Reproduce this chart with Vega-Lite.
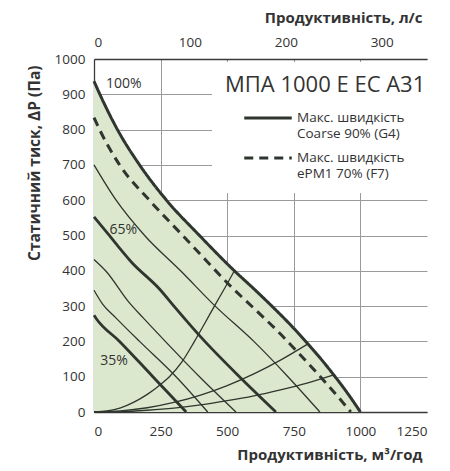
{
  "$schema": "https://vega.github.io/schema/vega-lite/v6.json",
  "autosize": {"type": "none"},
  "padding": {"left": 94, "top": 59, "right": 23, "bottom": 59},
  "width": 333,
  "height": 353,
  "config": {
    "font": "Open Sans",
    "view": {"stroke": null},
    "axis": {
      "gridColor": "#9a9a9a",
      "gridWidth": 1,
      "domainColor": "#3a3a3a",
      "domainWidth": 1.3,
      "labelColor": "#333333",
      "titleColor": "#333333",
      "labelFontSize": 13.5,
      "titleFontSize": 15,
      "titleFontWeight": "bold",
      "ticks": false,
      "zindex": 1
    }
  },
  "datasets": {
    "curves": [
      {"curve": "G4", "q": 0, "p": 937}, {"curve": "G4", "q": 22, "p": 900}, {"curve": "G4", "q": 88, "p": 800}, {"curve": "G4", "q": 171, "p": 700}, {"curve": "G4", "q": 272, "p": 600}, {"curve": "G4", "q": 396, "p": 500}, {"curve": "G4", "q": 527, "p": 400}, {"curve": "G4", "q": 600, "p": 349}, {"curve": "G4", "q": 665, "p": 302}, {"curve": "G4", "q": 740, "p": 245}, {"curve": "G4", "q": 803, "p": 193}, {"curve": "G4", "q": 850, "p": 152}, {"curve": "G4", "q": 900, "p": 105}, {"curve": "G4", "q": 950, "p": 55}, {"curve": "G4", "q": 1000, "p": 0},
      {"curve": "F7", "q": 0, "p": 834}, {"curve": "F7", "q": 21, "p": 800}, {"curve": "F7", "q": 96, "p": 700}, {"curve": "F7", "q": 208, "p": 600}, {"curve": "F7", "q": 333, "p": 500}, {"curve": "F7", "q": 420, "p": 430}, {"curve": "F7", "q": 500, "p": 366}, {"curve": "F7", "q": 600, "p": 294}, {"curve": "F7", "q": 700, "p": 221}, {"curve": "F7", "q": 749, "p": 182}, {"curve": "F7", "q": 800, "p": 141}, {"curve": "F7", "q": 858, "p": 93}, {"curve": "F7", "q": 914, "p": 45}, {"curve": "F7", "q": 964, "p": 0},
      {"curve": "s80", "q": 0, "p": 700}, {"curve": "s80", "q": 83, "p": 600}, {"curve": "s80", "q": 190, "p": 500}, {"curve": "s80", "q": 325, "p": 400}, {"curve": "s80", "q": 455, "p": 300}, {"curve": "s80", "q": 600, "p": 200}, {"curve": "s80", "q": 728, "p": 100}, {"curve": "s80", "q": 848, "p": 0},
      {"curve": "s65", "q": 0, "p": 553}, {"curve": "s65", "q": 52, "p": 505}, {"curve": "s65", "q": 140, "p": 425}, {"curve": "s65", "q": 250, "p": 345}, {"curve": "s65", "q": 300, "p": 300}, {"curve": "s65", "q": 410, "p": 205}, {"curve": "s65", "q": 546, "p": 100}, {"curve": "s65", "q": 683, "p": 0},
      {"curve": "s55", "q": 0, "p": 432}, {"curve": "s55", "q": 46, "p": 398}, {"curve": "s55", "q": 130, "p": 312}, {"curve": "s55", "q": 183, "p": 268}, {"curve": "s55", "q": 264, "p": 203}, {"curve": "s55", "q": 396, "p": 100}, {"curve": "s55", "q": 533, "p": 0},
      {"curve": "s45", "q": 0, "p": 345}, {"curve": "s45", "q": 33, "p": 305}, {"curve": "s45", "q": 83, "p": 266}, {"curve": "s45", "q": 171, "p": 200}, {"curve": "s45", "q": 308, "p": 100}, {"curve": "s45", "q": 427, "p": 0},
      {"curve": "s35", "q": 0, "p": 274}, {"curve": "s35", "q": 8, "p": 265}, {"curve": "s35", "q": 96, "p": 200}, {"curve": "s35", "q": 221, "p": 100}, {"curve": "s35", "q": 346, "p": 0},
      {"curve": "r1", "q": 0, "p": 0}, {"curve": "r1", "q": 50, "p": 3}, {"curve": "r1", "q": 100, "p": 12}, {"curve": "r1", "q": 150, "p": 28}, {"curve": "r1", "q": 200, "p": 50}, {"curve": "r1", "q": 250, "p": 78}, {"curve": "r1", "q": 283, "p": 100}, {"curve": "r1", "q": 330, "p": 142}, {"curve": "r1", "q": 377, "p": 200}, {"curve": "r1", "q": 415, "p": 250}, {"curve": "r1", "q": 452, "p": 300}, {"curve": "r1", "q": 490, "p": 350}, {"curve": "r1", "q": 527, "p": 400},
      {"curve": "r2", "q": 0, "p": 0}, {"curve": "r2", "q": 100, "p": 3}, {"curve": "r2", "q": 200, "p": 12}, {"curve": "r2", "q": 300, "p": 27}, {"curve": "r2", "q": 400, "p": 48}, {"curve": "r2", "q": 500, "p": 75}, {"curve": "r2", "q": 600, "p": 108}, {"curve": "r2", "q": 700, "p": 147}, {"curve": "r2", "q": 803, "p": 193},
      {"curve": "r3", "q": 0, "p": 0}, {"curve": "r3", "q": 100, "p": 1}, {"curve": "r3", "q": 200, "p": 5}, {"curve": "r3", "q": 300, "p": 11}, {"curve": "r3", "q": 400, "p": 20}, {"curve": "r3", "q": 500, "p": 32}, {"curve": "r3", "q": 600, "p": 46}, {"curve": "r3", "q": 700, "p": 63}, {"curve": "r3", "q": 800, "p": 82}, {"curve": "r3", "q": 900, "p": 105}
    ],
    "labels": [
      {"label": "100%", "q": 112, "p": 928},
      {"label": "65%", "q": 110, "p": 516},
      {"label": "35%", "q": 75, "p": 144}
    ]
  },
  "resolve": {"axis": {"x": "independent"}},
  "encoding": {
    "y": {
      "field": "p", "type": "quantitative",
      "scale": {"domain": [0, 1000], "nice": false},
      "axis": {
        "values": [0, 100, 200, 300, 400, 500, 600, 700, 800, 900, 1000],
        "format": "d",
        "labelOverlap": false,
        "grid": true,
        "labelPadding": 9,
        "title": "Статичний тиск, ΔP (Па)",
        "titleAnchor": "end",
        "titleY": 6,
        "titlePadding": 12,
        "titleFontSize": 15.5
      }
    }
  },
  "layer": [
    {
      "data": {"name": "curves"},
      "transform": [{"filter": "datum.curve == 'G4'"}],
      "mark": {"type": "area", "interpolate": "monotone", "fill": "#dce8cd"},
      "encoding": {
        "x": {
          "field": "q", "type": "quantitative",
          "scale": {"domain": [0, 1250], "nice": false},
          "axis": {
            "orient": "bottom",
            "values": [0, 250, 500, 750, 1000, 1250],
            "format": "d",
            "labelOverlap": false,
            "grid": true,
            "gridOpacity": {"condition": {"test": "datum.value == 1250", "value": 0}, "value": 1},
            "labelPadding": 12,
            "title": "Продуктивність, м³/год",
            "titleAnchor": "end",
            "titleX": 328,
            "titleAlign": "right",
            "titlePadding": 10
          }
        }
      }
    },
    {
      "data": {"name": "curves"},
      "transform": [{"filter": "indexof(['s80','s55','s45','r1','r2','r3'], datum.curve) >= 0"}],
      "mark": {"type": "line", "interpolate": "monotone", "color": "#2f352f", "strokeWidth": 1.3},
      "encoding": {
        "x": {
          "field": "q", "type": "quantitative",
          "axis": {
            "orient": "top",
            "values": [0, 360, 720, 1080],
            "labelExpr": "format(datum.value / 3.6, 'd')",
            "labelOverlap": false,
            "grid": false,
            "labelPadding": 10,
            "title": "Продуктивність, л/с",
            "titleAnchor": "end",
            "titleX": 328,
            "titleAlign": "right",
            "titlePadding": 10
          }
        },
        "detail": {"field": "curve"}
      }
    },
    {
      "data": {"name": "curves"},
      "transform": [{"filter": "indexof(['s65','s35'], datum.curve) >= 0"}],
      "mark": {"type": "line", "interpolate": "monotone", "color": "#2f352f", "strokeWidth": 2.8},
      "encoding": {
        "x": {"field": "q", "type": "quantitative", "axis": null},
        "detail": {"field": "curve"}
      }
    },
    {
      "data": {"name": "curves"},
      "transform": [{"filter": "indexof(['G4','F7'], datum.curve) >= 0"}],
      "mark": {"type": "line", "interpolate": "monotone", "color": "#2f352f", "strokeWidth": 3},
      "encoding": {
        "x": {"field": "q", "type": "quantitative", "axis": null},
        "strokeDash": {
          "field": "curve", "type": "nominal",
          "scale": {"domain": ["G4", "F7"], "range": [[1, 0], [9, 6]]},
          "legend": {
            "orient": "none",
            "legendX": 118,
            "legendY": 3,
            "zindex": 2,
            "title": "МПА 1000 E EC A31",
            "titleLimit": 400,
            "titleFontSize": 22,
            "titleFontWeight": "normal",
            "titleColor": "#333333",
            "titlePadding": 10,
            "fillColor": "white",
            "padding": 13,
            "symbolType": "M-2.5,0H2.5",
            "symbolSize": 361,
            "symbolStrokeWidth": 3,
            "symbolStrokeColor": "#2f352f",
            "symbolOffset": 32,
            "labelOffset": 18,
            "labelFontSize": 13.5,
            "labelColor": "#333333",
            "labelLineHeight": 20,
            "labelLimit": 300,
            "labelBaseline": "middle",
            "rowPadding": 7,
            "labelExpr": "datum.value == 'G4' ? ['Макс. швидкість', 'Coarse 90% (G4)'] : ['Макс. швидкість', 'ePM1 70% (F7)']"
          }
        }
      }
    },
    {
      "data": {"name": "labels"},
      "mark": {"type": "text", "fontSize": 14, "color": "#333333"},
      "encoding": {
        "x": {"field": "q", "type": "quantitative", "axis": null},
        "text": {"field": "label"}
      }
    }
  ]
}
